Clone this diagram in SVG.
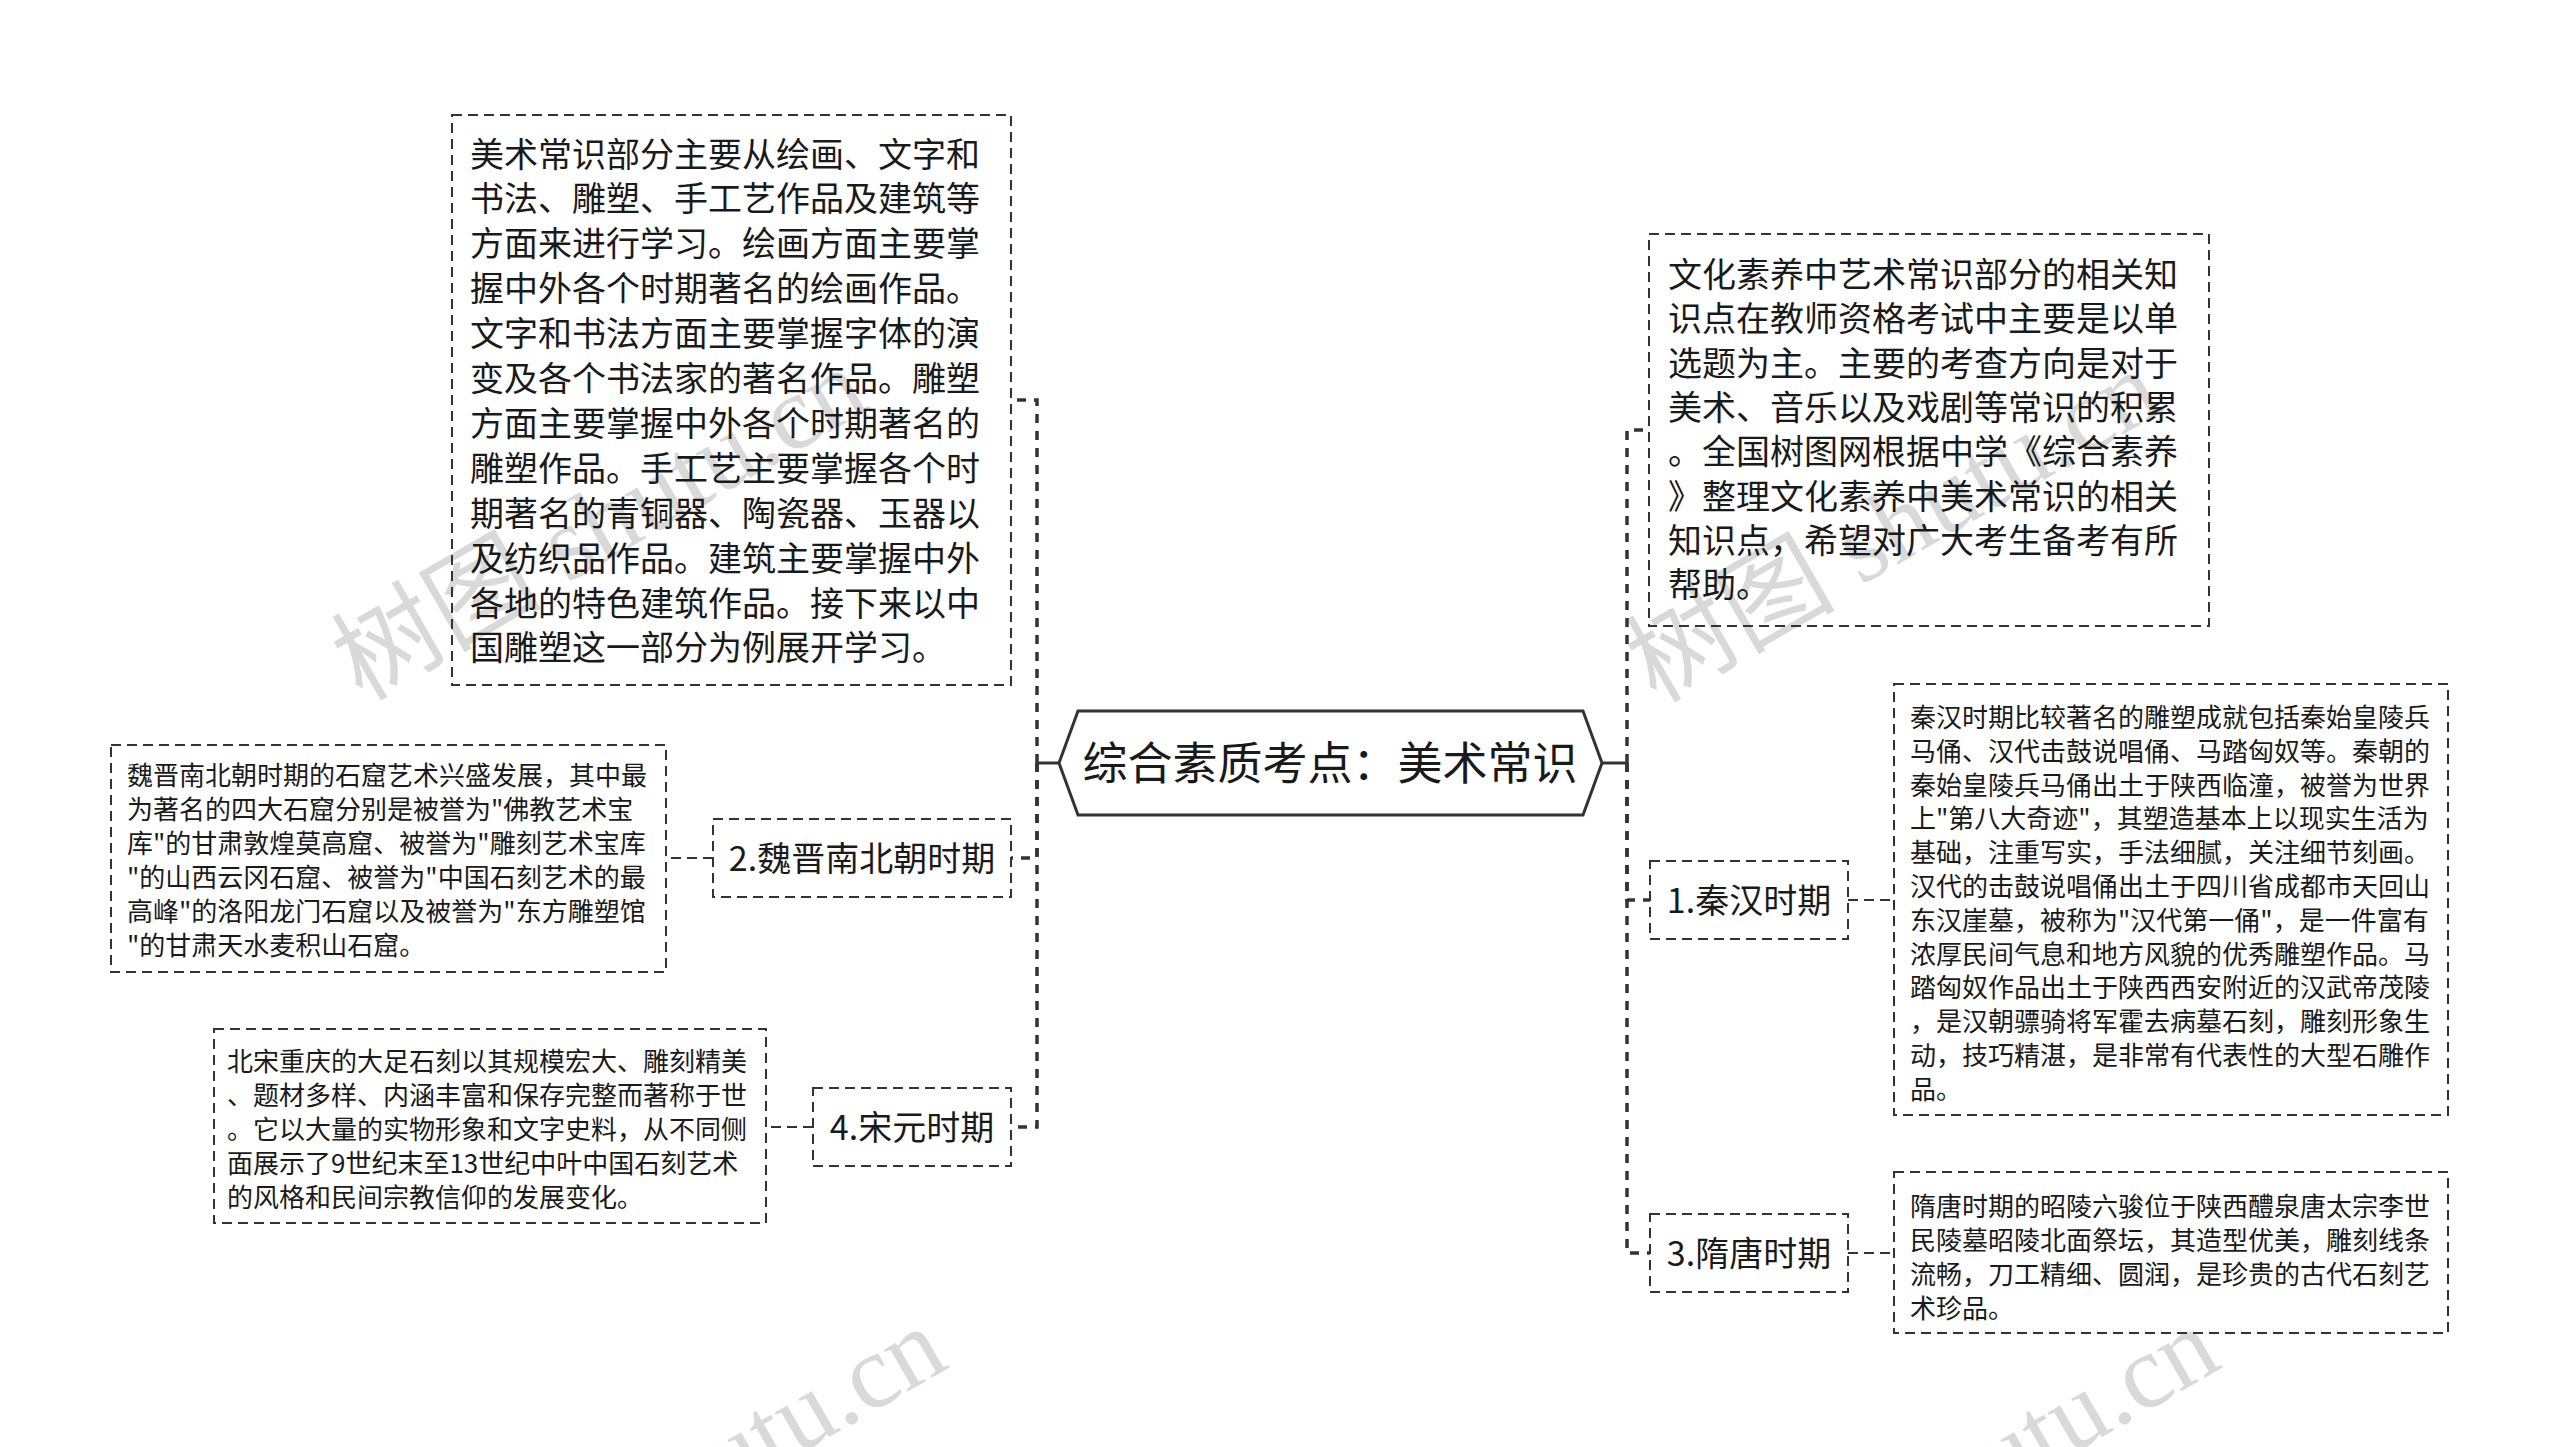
<svg xmlns="http://www.w3.org/2000/svg" width="2560" height="1447" viewBox="0 0 2560 1447">
<style>
.wm{font-size:105px;fill:#d9d9d9;}
.wmc{font-family:'Noto Sans CJK SC',sans-serif;}
.wml{font-family:'Liberation Serif',serif;}
.box{fill:none;stroke:#333;stroke-width:2;stroke-dasharray:10 6;}
.trunk{fill:none;stroke:#333;stroke-width:3.5;stroke-dasharray:9 8;}
.link{fill:none;stroke:#333;stroke-width:2;stroke-dasharray:10 6;}
.stub{fill:none;stroke:#333;stroke-width:3;}
.t{font-family:'Noto Sans CJK SC','Microsoft YaHei',sans-serif;fill:#1a1a1a;}
.big{font-size:34px;}
.small{font-size:26px;}
.lab{font-size:34px;text-anchor:middle;}
.main{font-size:45px;text-anchor:middle;}
</style>
<rect width="2560" height="1447" fill="#fff"/>
<g id="watermarks">
<text class="wm" transform="translate(362,702) rotate(-30)"><tspan class="wmc">树图</tspan><tspan class="wml"> shutu.cn</tspan></text>
<text class="wm" transform="translate(1656,704) rotate(-30)"><tspan class="wmc">树图</tspan><tspan class="wml"> shutu.cn</tspan></text>
<text class="wm" transform="translate(441,1661) rotate(-30)"><tspan class="wmc">树图</tspan><tspan class="wml"> shutu.cn</tspan></text>
<text class="wm" transform="translate(1714,1661) rotate(-30)"><tspan class="wmc">树图</tspan><tspan class="wml"> shutu.cn</tspan></text>
</g>
<g id="connectors">
<path class="stub" d="M1059 763H1037"/>
<path class="stub" d="M1602 763H1627"/>
<path class="trunk" d="M1037 763V400H1011"/>
<path class="trunk" d="M1037 763V858H1011"/>
<path class="trunk" d="M1037 763V1127H1011"/>
<path class="trunk" d="M1627 763V430H1649"/>
<path class="trunk" d="M1627 763V900H1650"/>
<path class="trunk" d="M1627 763V1253H1650"/>
<path class="link" d="M1848 900H1894"/>
<path class="link" d="M1848 1253H1894"/>
<path class="link" d="M713 858H666"/>
<path class="link" d="M813 1127H766"/>
</g>
<g id="root">
<polygon points="1059,763 1078,711 1583,711 1602,763 1583,815 1078,815" fill="#fff" stroke="#333" stroke-width="3"/>
<text class="t main" x="1330" y="780">综合素质考点：美术常识</text>
</g>
<g id="intro-left">
<rect class="box" x="452" y="115" width="559" height="570"/>
<text class="t big">
<tspan x="470" y="166.5">美术常识部分主要从绘画、文字和</tspan>
<tspan x="470" y="211.4">书法、雕塑、手工艺作品及建筑等</tspan>
<tspan x="470" y="256.3">方面来进行学习。绘画方面主要掌</tspan>
<tspan x="470" y="301.2">握中外各个时期著名的绘画作品。</tspan>
<tspan x="470" y="346.1">文字和书法方面主要掌握字体的演</tspan>
<tspan x="470" y="391">变及各个书法家的著名作品。雕塑</tspan>
<tspan x="470" y="435.9">方面主要掌握中外各个时期著名的</tspan>
<tspan x="470" y="480.8">雕塑作品。手工艺主要掌握各个时</tspan>
<tspan x="470" y="525.7">期著名的青铜器、陶瓷器、玉器以</tspan>
<tspan x="470" y="570.6">及纺织品作品。建筑主要掌握中外</tspan>
<tspan x="470" y="615.5">各地的特色建筑作品。接下来以中</tspan>
<tspan x="470" y="660.4">国雕塑这一部分为例展开学习。</tspan>
</text>
</g>
<g id="intro-right">
<rect class="box" x="1649" y="234" width="560" height="392"/>
<text class="t big">
<tspan x="1668" y="287">文化素养中艺术常识部分的相关知</tspan>
<tspan x="1668" y="331.3">识点在教师资格考试中主要是以单</tspan>
<tspan x="1668" y="375.6">选题为主。主要的考查方向是对于</tspan>
<tspan x="1668" y="419.9">美术、音乐以及戏剧等常识的积累</tspan>
<tspan x="1668" y="464.2">。全国树图网根据中学《综合素养</tspan>
<tspan x="1668" y="508.5">》整理文化素养中美术常识的相关</tspan>
<tspan x="1668" y="552.8">知识点，希望对广大考生备考有所</tspan>
<tspan x="1668" y="597.1">帮助。</tspan>
</text>
</g>
<g id="qinhan">
<rect class="box" x="1650" y="861" width="198" height="78"/>
<text class="t lab" x="1749" y="913">1.秦汉时期</text>
</g>
<g id="qinhan-detail">
<rect class="box" x="1894" y="684" width="554" height="431"/>
<text class="t small">
<tspan x="1910" y="727">秦汉时期比较著名的雕塑成就包括秦始皇陵兵</tspan>
<tspan x="1910" y="760.8">马俑、汉代击鼓说唱俑、马踏匈奴等。秦朝的</tspan>
<tspan x="1910" y="794.6">秦始皇陵兵马俑出土于陕西临潼，被誉为世界</tspan>
<tspan x="1910" y="828.4">上"第八大奇迹"，其塑造基本上以现实生活为</tspan>
<tspan x="1910" y="862.2">基础，注重写实，手法细腻，关注细节刻画。</tspan>
<tspan x="1910" y="896">汉代的击鼓说唱俑出土于四川省成都市天回山</tspan>
<tspan x="1910" y="929.8">东汉崖墓，被称为"汉代第一俑"，是一件富有</tspan>
<tspan x="1910" y="963.6">浓厚民间气息和地方风貌的优秀雕塑作品。马</tspan>
<tspan x="1910" y="997.4">踏匈奴作品出土于陕西西安附近的汉武帝茂陵</tspan>
<tspan x="1910" y="1031.2">，是汉朝骠骑将军霍去病墓石刻，雕刻形象生</tspan>
<tspan x="1910" y="1065">动，技巧精湛，是非常有代表性的大型石雕作</tspan>
<tspan x="1910" y="1098.8">品。</tspan>
</text>
</g>
<g id="suitang">
<rect class="box" x="1650" y="1214" width="198" height="78"/>
<text class="t lab" x="1749" y="1266">3.隋唐时期</text>
</g>
<g id="suitang-detail">
<rect class="box" x="1894" y="1172" width="554" height="161"/>
<text class="t small">
<tspan x="1910" y="1216">隋唐时期的昭陵六骏位于陕西醴泉唐太宗李世</tspan>
<tspan x="1910" y="1250">民陵墓昭陵北面祭坛，其造型优美，雕刻线条</tspan>
<tspan x="1910" y="1284">流畅，刀工精细、圆润，是珍贵的古代石刻艺</tspan>
<tspan x="1910" y="1318">术珍品。</tspan>
</text>
</g>
<g id="weijin">
<rect class="box" x="713" y="819" width="298" height="78"/>
<text class="t lab" x="862" y="871">2.魏晋南北朝时期</text>
</g>
<g id="weijin-detail">
<rect class="box" x="111" y="745" width="555" height="227"/>
<text class="t small">
<tspan x="127" y="785">魏晋南北朝时期的石窟艺术兴盛发展，其中最</tspan>
<tspan x="127" y="819">为著名的四大石窟分别是被誉为"佛教艺术宝</tspan>
<tspan x="127" y="853">库"的甘肃敦煌莫高窟、被誉为"雕刻艺术宝库</tspan>
<tspan x="127" y="887">"的山西云冈石窟、被誉为"中国石刻艺术的最</tspan>
<tspan x="127" y="921">高峰"的洛阳龙门石窟以及被誉为"东方雕塑馆</tspan>
<tspan x="127" y="955">"的甘肃天水麦积山石窟。</tspan>
</text>
</g>
<g id="songyuan">
<rect class="box" x="813" y="1088" width="198" height="78"/>
<text class="t lab" x="912" y="1140">4.宋元时期</text>
</g>
<g id="songyuan-detail">
<rect class="box" x="214" y="1029" width="552" height="194"/>
<text class="t small">
<tspan x="227" y="1071">北宋重庆的大足石刻以其规模宏大、雕刻精美</tspan>
<tspan x="227" y="1105">、题材多样、内涵丰富和保存完整而著称于世</tspan>
<tspan x="227" y="1139">。它以大量的实物形象和文字史料，从不同侧</tspan>
<tspan x="227" y="1173">面展示了9世纪末至13世纪中叶中国石刻艺术</tspan>
<tspan x="227" y="1207">的风格和民间宗教信仰的发展变化。</tspan>
</text>
</g>
</svg>
